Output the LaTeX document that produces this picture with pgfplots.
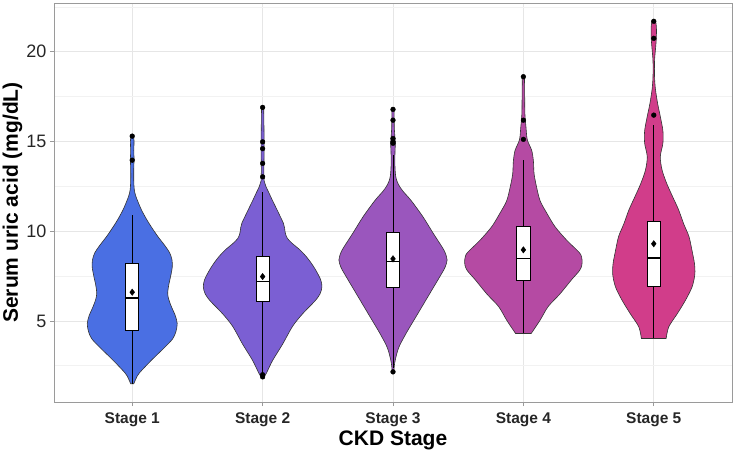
\documentclass[border=0pt]{standalone}
\usepackage{pgfplots}
\pgfplotsset{compat=1.18}
\usepackage{pgfplotstable}
\usepackage{fontspec}
\setmainfont{Liberation Sans}

\definecolor{cA}{HTML}{4A6FE3}
\definecolor{cB}{HTML}{7B5FD3}
\definecolor{cC}{HTML}{9A56BD}
\definecolor{cD}{HTML}{B54AA3}
\definecolor{cE}{HTML}{D13D8A}
\definecolor{gridc}{HTML}{E6E6E6}
\definecolor{gridm}{HTML}{F2F2F2}
\definecolor{bordc}{HTML}{9A9A9A}
\definecolor{outl}{HTML}{333333}

% violin outlines: v = serum uric acid, w = signed half width (x units)
\pgfplotstableread{
v w
1.5 0.012
1.8 0.03
2.1 0.055
2.8 0.146
3.5 0.245
4.0 0.31
4.4 0.335
4.85 0.345
5.3 0.33
5.8 0.30
6.2 0.28
6.55 0.272
7.0 0.28
7.5 0.295
8.0 0.307
8.4 0.305
8.8 0.287
9.2 0.25
9.7 0.197
10.2 0.15
10.6 0.115
11.2 0.07
11.9 0.03
12.3 0.016
12.8 0.012
13.5 0.012
14.0 0.014
14.5 0.012
15.0 0.014
15.3 0.01
15.4 0.004
15.4 -0.004
15.3 -0.01
15.0 -0.014
14.5 -0.012
14.0 -0.014
13.5 -0.012
12.8 -0.012
12.3 -0.016
11.9 -0.03
11.2 -0.07
10.6 -0.115
10.2 -0.15
9.7 -0.197
9.2 -0.25
8.8 -0.287
8.4 -0.305
8.0 -0.307
7.5 -0.295
7.0 -0.28
6.55 -0.272
6.2 -0.28
5.8 -0.30
5.3 -0.33
4.85 -0.345
4.4 -0.335
4.0 -0.31
3.5 -0.245
2.8 -0.146
2.1 -0.055
1.8 -0.03
1.5 -0.012
}\vA

\pgfplotstableread{
v w
1.88 0.012
2.1 0.03
2.8 0.077
3.7 0.153
4.7 0.23
5.4 0.307
6.1 0.40
6.5 0.44
6.9 0.455
7.3 0.445
7.8 0.41
8.2 0.375
8.6 0.333
9.0 0.28
9.3 0.23
9.6 0.19
9.9 0.174
10.2 0.168
10.45 0.159
10.9 0.13
11.35 0.10
11.8 0.07
12.1 0.051
12.5 0.025
12.8 0.012
13.5 0.01
14.5 0.012
15.0 0.012
16.0 0.01
16.9 0.008
17.0 0.003
17.0 -0.003
16.9 -0.008
16.0 -0.01
15.0 -0.012
14.5 -0.012
13.5 -0.01
12.8 -0.012
12.5 -0.025
12.1 -0.051
11.8 -0.07
11.35 -0.10
10.9 -0.13
10.45 -0.159
10.2 -0.168
9.9 -0.174
9.6 -0.19
9.3 -0.23
9.0 -0.28
8.6 -0.333
8.2 -0.375
7.8 -0.41
7.3 -0.445
6.9 -0.455
6.5 -0.44
6.1 -0.40
5.4 -0.307
4.7 -0.23
3.7 -0.153
2.8 -0.077
2.1 -0.03
1.88 -0.012
}\vB

\pgfplotstableread{
v w
2.16 0.006
2.6 0.012
3.0 0.023
3.55 0.046
4.3 0.10
5.4 0.19
6.5 0.28
7.6 0.37
8.0 0.40
8.4 0.415
8.8 0.40
9.1 0.378
9.9 0.307
10.8 0.23
11.7 0.14
12.2 0.08
12.5 0.05
12.8 0.03
13.1 0.02
13.6 0.015
14.3 0.015
14.9 0.018
15.2 0.015
15.8 0.01
16.8 0.008
16.9 0.003
16.9 -0.003
16.8 -0.008
15.8 -0.01
15.2 -0.015
14.9 -0.018
14.3 -0.015
13.6 -0.015
13.1 -0.02
12.8 -0.03
12.5 -0.05
12.2 -0.08
11.7 -0.14
10.8 -0.23
9.9 -0.307
9.1 -0.378
8.8 -0.40
8.4 -0.415
8.0 -0.40
7.6 -0.37
6.5 -0.28
5.4 -0.19
4.3 -0.10
3.55 -0.046
3.0 -0.023
2.6 -0.012
2.16 -0.006
}\vC

\pgfplotstableread{
v w
4.3 0.06
5.04 0.128
5.8 0.19
6.5 0.28
7.3 0.37
7.8 0.43
8.1 0.448
8.4 0.45
8.7 0.44
8.95 0.41
9.5 0.332
10.25 0.243
11.0 0.18
11.7 0.128
12.5 0.10
13.2 0.082
13.9 0.077
14.5 0.064
15.1 0.03
15.8 0.02
16.5 0.012
17.5 0.01
18.6 0.008
18.7 0.003
18.7 -0.003
18.6 -0.008
17.5 -0.01
16.5 -0.012
15.8 -0.02
15.1 -0.03
14.5 -0.064
13.9 -0.077
13.2 -0.082
12.5 -0.10
11.7 -0.128
11.0 -0.18
10.25 -0.243
9.5 -0.332
8.95 -0.41
8.7 -0.44
8.4 -0.45
8.1 -0.448
7.8 -0.43
7.3 -0.37
6.5 -0.28
5.8 -0.19
5.04 -0.128
4.3 -0.06
}\vD

\pgfplotstableread{
v w
4.02 0.095
4.67 0.115
5.4 0.18
6.15 0.243
6.9 0.294
7.6 0.315
8.2 0.312
8.9 0.294
9.7 0.27
10.4 0.23
11.2 0.19
11.9 0.146
12.65 0.10
13.4 0.064
14.15 0.05
14.9 0.07
15.6 0.07
16.4 0.05
17.1 0.03
17.9 0.013
18.6 0.006
19.5 0.006
20.3 0.015
20.8 0.02
21.4 0.02
21.75 0.012
21.8 0.003
21.8 -0.003
21.75 -0.012
21.4 -0.02
20.8 -0.02
20.3 -0.015
19.5 -0.006
18.6 -0.006
17.9 -0.013
17.1 -0.03
16.4 -0.05
15.6 -0.07
14.9 -0.07
14.15 -0.05
13.4 -0.064
12.65 -0.10
11.9 -0.146
11.2 -0.19
10.4 -0.23
9.7 -0.27
8.9 -0.294
8.2 -0.312
7.6 -0.315
6.9 -0.294
6.15 -0.243
5.4 -0.18
4.67 -0.115
4.02 -0.095
}\vE

\begin{document}
\begin{tikzpicture}
\useasboundingbox (-54bp,-52bp) rectangle (682bp,402bp);
\begin{axis}[
  at={(0,0)}, anchor=south west,
  scale only axis, width=678bp, height=399bp,
  xmin=0.4, xmax=5.6, ymin=0.48, ymax=22.72,
  xtick={1,2,3,4,5},
  xticklabels={Stage 1,Stage 2,Stage 3,Stage 4,Stage 5},
  ytick={5,10,15,20},
  minor ytick={2.5,7.5,12.5,17.5,22.5},
  grid=both,
  major grid style={draw=gridc, line width=0.8bp},
  minor grid style={draw=gridm, line width=0.6bp},
  axis line style={draw=bordc, line width=0.8bp},
  tick pos=left, tick align=outside,
  major tick length=4bp, minor tick length=0pt,
  tick style={draw=bordc, line width=0.8bp},
  /pgf/number format/assume math mode=true,
  yticklabel style={font=\fontsize{18bp}{20bp}\selectfont, text=black!85},
  xticklabel style={font=\fontsize{15.5bp}{18bp}\selectfont\bfseries, text=black!85, yshift=-3bp},
  every axis x label/.style={at={(axis description cs:0.5,0)}, anchor=center, yshift=-38bp,
     font=\fontsize{21bp}{24bp}\selectfont\bfseries},
  every axis y label/.style={at={(axis description cs:0,0.5)}, anchor=center, xshift=-41.5bp, rotate=90,
     font=\fontsize{21bp}{24bp}\selectfont\bfseries},
  xlabel={CKD Stage},
  ylabel={Serum uric acid (mg/dL)},
]
% violins
\addplot[fill=cA, draw=outl, line width=0.6bp, smooth, tension=0.5] table[x expr=1+\thisrow{w}, y=v]{\vA} -- cycle;
\addplot[fill=cB, draw=outl, line width=0.6bp, smooth, tension=0.5] table[x expr=2+\thisrow{w}, y=v]{\vB} -- cycle;
\addplot[fill=cC, draw=outl, line width=0.6bp, smooth, tension=0.5] table[x expr=3+\thisrow{w}, y=v]{\vC} -- cycle;
\addplot[fill=cD, draw=outl, line width=0.6bp, smooth, tension=0.5] table[x expr=4+\thisrow{w}, y=v]{\vD} -- cycle;
\addplot[fill=cE, draw=outl, line width=0.6bp, smooth, tension=0.5] table[x expr=5+\thisrow{w}, y=v]{\vE} -- cycle;
% whiskers
\addplot[black, line width=0.7bp] coordinates {(1,1.5)(1,10.9)};
\addplot[black, line width=0.7bp] coordinates {(2,2.05)(2,12.2)};
\addplot[black, line width=0.7bp] coordinates {(3,2.4)(3,14.24)};
\addplot[black, line width=0.7bp] coordinates {(4,4.3)(4,13.96)};
\addplot[black, line width=0.7bp] coordinates {(5,4.02)(5,15.9)};
% boxes
\addplot[fill=white, draw=black, line width=0.8bp] coordinates {(0.95,4.48)(1.05,4.48)(1.05,8.18)(0.95,8.18)} -- cycle;
\addplot[fill=white, draw=black, line width=0.8bp] coordinates {(1.95,6.08)(2.05,6.08)(2.05,8.57)(1.95,8.57)} -- cycle;
\addplot[fill=white, draw=black, line width=0.8bp] coordinates {(2.95,6.88)(3.05,6.88)(3.05,9.91)(2.95,9.91)} -- cycle;
\addplot[fill=white, draw=black, line width=0.8bp] coordinates {(3.95,7.27)(4.05,7.27)(4.05,10.29)(3.95,10.29)} -- cycle;
\addplot[fill=white, draw=black, line width=0.8bp] coordinates {(4.95,6.9)(5.05,6.9)(5.05,10.57)(4.95,10.57)} -- cycle;
% medians
\addplot[black, line width=1.3bp] coordinates {(0.95,6.28)(1.05,6.28)};
\addplot[black, line width=1.3bp] coordinates {(1.95,7.18)(2.05,7.18)};
\addplot[black, line width=1.3bp] coordinates {(2.95,8.3)(3.05,8.3)};
\addplot[black, line width=1.3bp] coordinates {(3.95,8.46)(4.05,8.46)};
\addplot[black, line width=1.3bp] coordinates {(4.95,8.5)(5.05,8.5)};
% means
\addplot[only marks, mark=diamond*, mark size=3.2bp, black] coordinates {(1,6.6)(2,7.47)(3,8.46)(4,8.96)(5,9.3)};
% outliers
\addplot[only marks, mark=*, mark size=2.4bp, black] coordinates {
(1,15.3)(1,13.96)
(2,16.9)(2,14.98)(2,14.6)(2,13.78)(2,13.03)(2,2.0)(2,1.88)
(3,16.79)(3,16.19)(3,15.17)(3,14.98)(3,14.9)(3,2.16)
(4,18.61)(4,16.19)(4,15.12)
(5,21.7)(5,20.75)(5,16.47)};
\end{axis}
\end{tikzpicture}
\end{document}
